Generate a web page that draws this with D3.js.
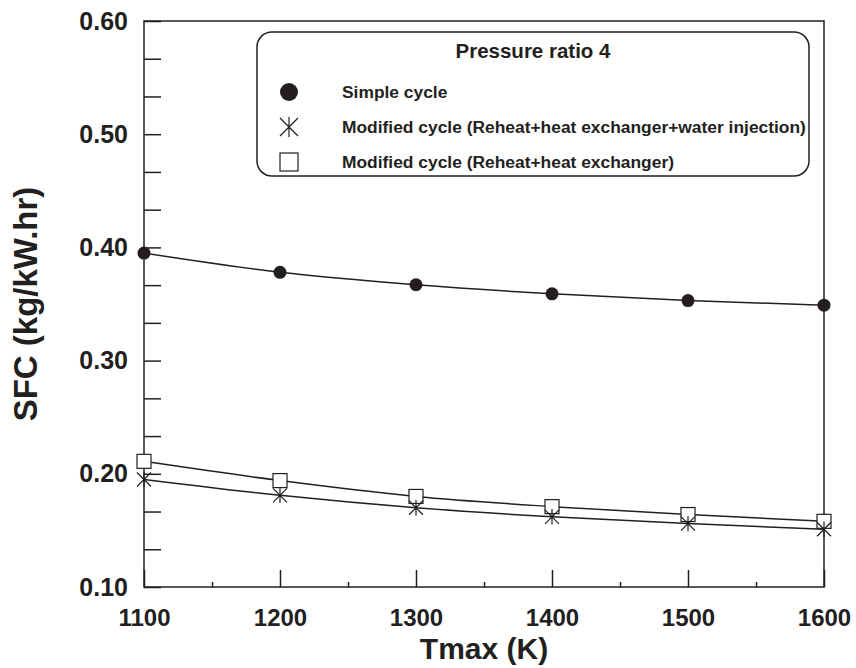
<!DOCTYPE html>
<html>
<head>
<meta charset="utf-8">
<script src="https://cdn.jsdelivr.net/npm/d3@7"></script>
<style>
    body { margin: 0; background: #fff; overflow: hidden; }
    text { font-family: 'Liberation Sans', Arial, sans-serif; font-weight: bold; fill: #231f20; }
</style>
</head>
<body>
<svg id="main" width="856" height="668"></svg>
<script>
const width = 856;
const height = 668;
const position = {
    left: 144,
    top: 21,
    right: 32,
    bottom: 81
};
const innerWidth = width - position.left - position.right;
const innerHeight = height - position.top - position.bottom;
const ink = '#231f20';

// data
const tmax = [1100, 1200, 1300, 1400, 1500, 1600];
const simpleCycle = [0.395, 0.378, 0.367, 0.359, 0.353, 0.349];
const reheatHxWater = [0.195, 0.181, 0.170, 0.162, 0.156, 0.151];
const reheatHx = [0.211, 0.194, 0.180, 0.171, 0.164, 0.158];

const xTicks = [1100, 1200, 1300, 1400, 1500, 1600];
const xMinorTicks = [1150, 1250, 1350, 1450, 1550];
const yTicks = [0.10, 0.20, 0.30, 0.40, 0.50, 0.60];
const yTickLabels = ['0.10', '0.20', '0.30', '0.40', '0.50', '0.60'];

const legendTitle = 'Pressure ratio 4';
const seriesNames = [
    'Simple cycle',
    'Modified cycle (Reheat+heat exchanger+water injection)',
    'Modified cycle (Reheat+heat exchanger)'
];

const svg = d3.select('#main');
const mainGroup = svg
    .append('g')
    .attr('transform', `translate(${position.left}, ${position.top})`);

const x = d3.scaleLinear().domain([1100, 1600]).range([0, innerWidth]);
const y = d3.scaleLinear().domain([0.10, 0.60]).range([innerHeight, 0]);

// y ticks: two minor ticks between labelled ones, all the same length
const yAllTicks = d3.range(0, 16).map(i => 0.10 + i / 30);
mainGroup
    .append('g')
    .call(d3.axisLeft(y).tickValues(yAllTicks).tickSize(-17).tickFormat(''))
    .call(g => g.select('.domain').remove())
    .call(g => g.selectAll('line').attr('stroke', ink).attr('stroke-width', 1.5));

mainGroup
    .append('g')
    .call(d3.axisLeft(y).tickValues(yTicks).tickSize(0).tickPadding(16)
        .tickFormat((d, i) => yTickLabels[i]))
    .call(g => g.select('.domain').remove())
    .call(g => g.selectAll('text')
        .attr('font-size', 25)
        .attr('font-family', null)
        .attr('fill', ink));

// x ticks
mainGroup
    .append('g')
    .attr('transform', `translate(0, ${innerHeight})`)
    .call(d3.axisBottom(x).tickValues(xTicks).tickSize(-17).tickPadding(22)
        .tickFormat(d3.format('d')))
    .call(g => g.select('.domain').remove())
    .call(g => g.selectAll('line').attr('stroke', ink).attr('stroke-width', 1.5))
    .call(g => g.selectAll('text')
        .attr('font-size', 24)
        .attr('font-family', null)
        .attr('fill', ink));

mainGroup
    .append('g')
    .attr('transform', `translate(0, ${innerHeight})`)
    .call(d3.axisBottom(x).tickValues(xMinorTicks).tickSize(-5).tickFormat(''))
    .call(g => g.select('.domain').remove())
    .call(g => g.selectAll('line').attr('stroke', ink).attr('stroke-width', 1.5));

// frame
mainGroup
    .append('rect')
    .attr('width', innerWidth)
    .attr('height', innerHeight)
    .attr('fill', 'none')
    .attr('stroke', ink)
    .attr('stroke-width', 1.5);

// axis titles
svg.append('text')
    .attr('x', position.left + innerWidth / 2)
    .attr('y', 659)
    .attr('text-anchor', 'middle')
    .attr('font-size', 30)
    .text('Tmax (K)');

svg.append('text')
    .attr('transform', `translate(37, ${position.top + innerHeight / 2}) rotate(-90)`)
    .attr('text-anchor', 'middle')
    .attr('font-size', 33)
    .text('SFC (kg/kW.hr)');

// curves
const line = d3
    .line()
    .x((d, i) => x(tmax[i]))
    .y(d => y(d))
    .curve(d3.curveMonotoneX);

[simpleCycle, reheatHxWater, reheatHx].forEach(series => {
    mainGroup
        .append('path')
        .attr('d', line(series))
        .attr('fill', 'none')
        .attr('stroke', ink)
        .attr('stroke-width', 1.5);
});

// star = X plus a vertical bar
const starPath = s => {
    const h = s / 2;
    return `M${-h},${-h}L${h},${h}M${-h},${h}L${h},${-h}M0,${-h * 1.1}L0,${h * 1.1}`;
};

mainGroup
    .selectAll('.sq')
    .data(reheatHx)
    .join('rect')
    .attr('class', 'sq')
    .attr('x', (d, i) => x(tmax[i]) - 7)
    .attr('y', d => y(d) - 7)
    .attr('width', 14)
    .attr('height', 14)
    .attr('fill', '#fff')
    .attr('stroke', ink)
    .attr('stroke-width', 1.2);

mainGroup
    .selectAll('.star')
    .data(reheatHxWater)
    .join('path')
    .attr('class', 'star')
    .attr('transform', (d, i) => `translate(${x(tmax[i])}, ${y(d)})`)
    .attr('d', starPath(14))
    .attr('fill', 'none')
    .attr('stroke', ink)
    .attr('stroke-width', 1.2);

mainGroup
    .selectAll('.dot')
    .data(simpleCycle)
    .join('circle')
    .attr('class', 'dot')
    .attr('cx', (d, i) => x(tmax[i]))
    .attr('cy', d => y(d))
    .attr('r', 6.5)
    .attr('fill', ink);

// legend
const legend = svg.append('g');
legend
    .append('rect')
    .attr('x', 257)
    .attr('y', 32)
    .attr('width', 552)
    .attr('height', 144)
    .attr('rx', 15)
    .attr('fill', '#fff')
    .attr('stroke', ink)
    .attr('stroke-width', 1.5);

legend
    .append('text')
    .attr('x', 533)
    .attr('y', 58)
    .attr('text-anchor', 'middle')
    .attr('font-size', 20.5)
    .text(legendTitle);

const rowY = [92, 127, 162];
legend
    .selectAll('.item')
    .data(seriesNames)
    .join('text')
    .attr('class', 'item')
    .attr('x', 342)
    .attr('y', (d, i) => rowY[i])
    .attr('dy', '0.35em')
    .attr('font-size', 17.4)
    .text(d => d);

legend
    .append('circle')
    .attr('cx', 289)
    .attr('cy', rowY[0])
    .attr('r', 9)
    .attr('fill', ink);

legend
    .append('path')
    .attr('transform', `translate(289, ${rowY[1]})`)
    .attr('d', starPath(18))
    .attr('fill', 'none')
    .attr('stroke', ink)
    .attr('stroke-width', 1.2);

legend
    .append('rect')
    .attr('x', 280)
    .attr('y', rowY[2] - 9)
    .attr('width', 18)
    .attr('height', 18)
    .attr('fill', 'none')
    .attr('stroke', ink)
    .attr('stroke-width', 1.2);
</script>
</body>
</html>
